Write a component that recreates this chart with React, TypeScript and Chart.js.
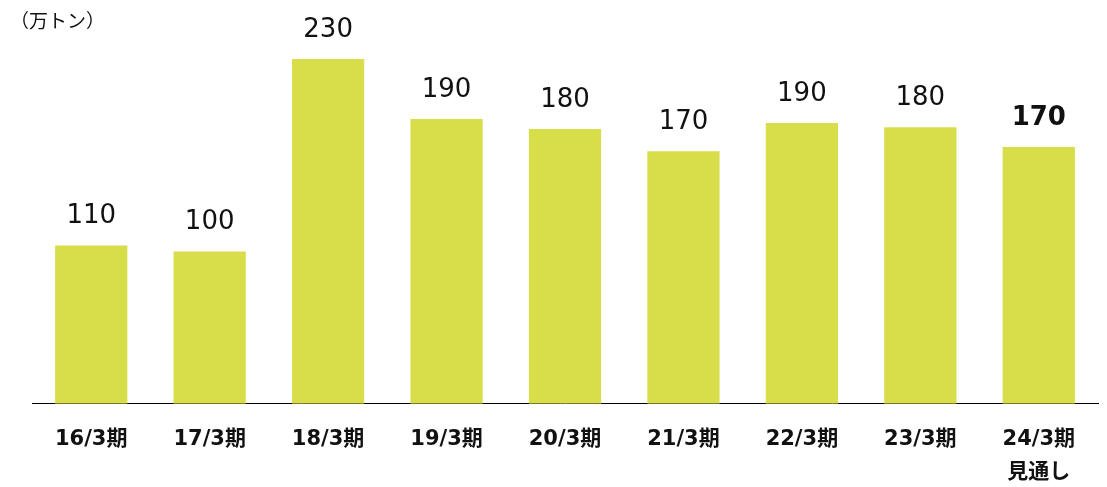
import React, { useEffect, useRef } from "react";
import { Chart, registerables } from "chart.js";

Chart.register(...registerables);

const categories: (string | string[])[] = [
  "16/3期", "17/3期", "18/3期", "19/3期", "20/3期", "21/3期", "22/3期", "23/3期", ["24/3期", "見通し"],
];
const barValues = [105.6, 101.6, 230, 189.9, 183.2, 168.5, 187.2, 184.5, 171.2];
const valueLabels = ["110", "100", "230", "190", "180", "170", "190", "180", "170"];
const boldLabel = [false, false, false, false, false, false, false, false, true];
const unitLabel = "（万トン）";

const labelPlugin = {
  id: "valueLabels",
  afterDraw(chart: any) {
    const ctx = chart.ctx;
    const meta = chart.getDatasetMeta(0);
    ctx.save();
    ctx.fillStyle = "#111";
    ctx.textAlign = "center";
    ctx.textBaseline = "alphabetic";
    meta.data.forEach((bar: any, i: number) => {
      ctx.font = (boldLabel[i] ? "bold " : "") + "26px 'DejaVu Sans', sans-serif";
      ctx.fillText(valueLabels[i], bar.x, bar.y - 22);
    });
    ctx.font = "19px 'Noto Sans CJK JP', sans-serif";
    ctx.textAlign = "left";
    ctx.textBaseline = "middle";
    ctx.fillText(unitLabel, 10, 21);
    ctx.restore();
  },
};

export default function App() {
  const ref = useRef<HTMLCanvasElement>(null);
  useEffect(() => {
    document.body.style.margin = "0";
    const chart = new Chart(ref.current!, {
      type: "bar",
      data: {
        labels: categories,
        datasets: [
          {
            data: barValues,
            backgroundColor: "#D7DE4A",
            barPercentage: 0.61,
            categoryPercentage: 1,
          },
        ],
      },
      options: {
        animation: false,
        responsive: false,
        maintainAspectRatio: false,
        layout: { padding: { top: 29, left: 32, right: 9, bottom: -21 } },
        plugins: { legend: { display: false }, tooltip: { enabled: false } },
        scales: {
          x: {
            grid: { display: false, drawTicks: false },
            border: { display: true, color: "#000", width: 1 },
            ticks: {
              color: "#111",
              padding: 19,
              maxRotation: 0,
              autoSkip: false,
              font: { family: "'DejaVu Sans', 'Noto Sans CJK JP', sans-serif", size: 21, weight: "bold", lineHeight: 1.58 },
            },
          },
          y: { display: false, min: 0, max: 250 },
        },
      },
      plugins: [labelPlugin],
    });
    return () => chart.destroy();
  }, []);
  return (
    <div style={{ width: 1107, height: 487, overflow: "hidden" }}>
      <canvas ref={ref} width={1107} height={487} style={{ display: "block" }} />
    </div>
  );
}
